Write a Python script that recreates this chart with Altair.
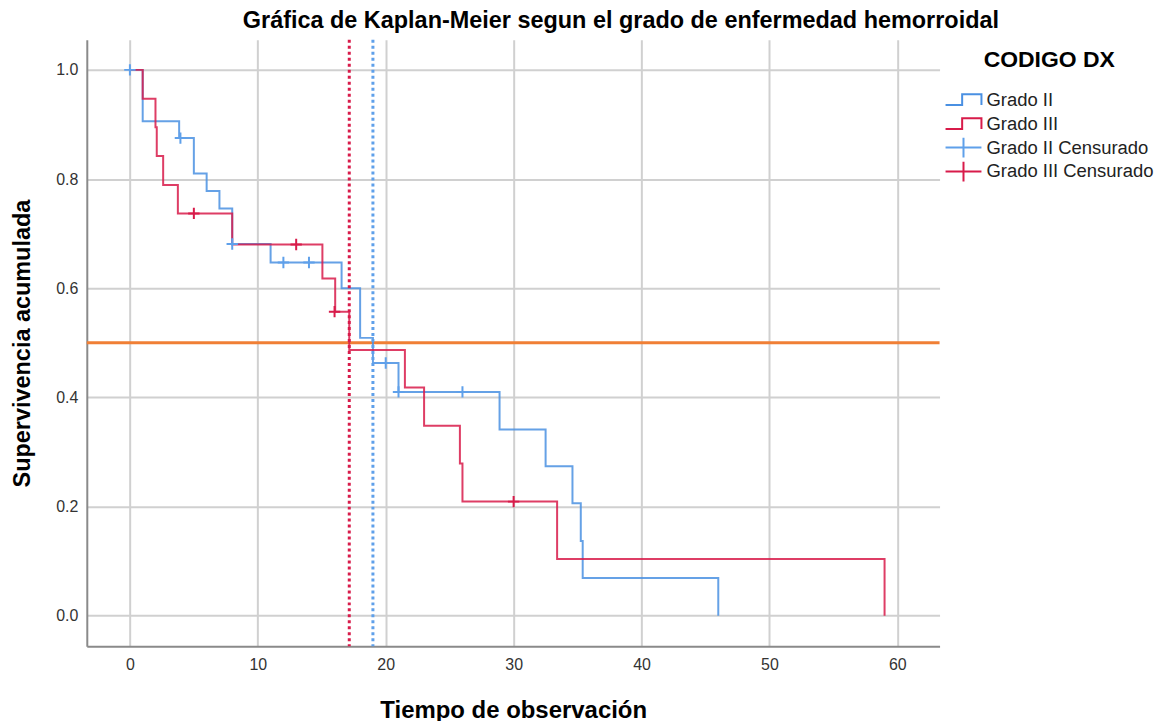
import altair as alt
import pandas as pd

FONT = "Liberation Sans"

# Grado II (step curve)
t_g2 = [0, 1, 3.85, 5, 6, 7, 8, 11, 16.55, 18, 19, 21, 28.9, 32.5, 34.6, 35.25, 35.4, 46]
s_g2 = [1.0, 0.906, 0.875, 0.810, 0.778, 0.746, 0.681, 0.647, 0.600, 0.509, 0.463, 0.410,
        0.341, 0.274, 0.206, 0.137, 0.069, 0.0]
# Grado II censored
tc_g2 = [0, 3.95, 8, 12, 14, 20, 21, 26]
sc_g2 = [1.0, 0.875, 0.681, 0.647, 0.647, 0.463, 0.410, 0.410]

# Grado III (step curve)
t_g3 = [0, 1, 2, 2.1, 2.6, 3.75, 8, 15.05, 16.05, 17.15, 21.5, 23, 25.8, 26, 33.4, 59]
s_g3 = [1.0, 0.947, 0.895, 0.842, 0.789, 0.737, 0.680, 0.618, 0.557, 0.487, 0.418, 0.348,
        0.279, 0.209, 0.104, 0.0]
# Grado III censored
tc_g3 = [5, 13, 16, 30]
sc_g3 = [0.737, 0.680, 0.557, 0.209]

# medians and reference
median_g2 = [19.0]
median_g3 = [17.15]
ref_level = [0.5]

series = ["Grado II", "Grado III", "Grado II Censurado", "Grado III Censurado"]
x_ticks = [0, 10, 20, 30, 40, 50, 60]
y_ticks = [0.0, 0.2, 0.4, 0.6, 0.8, 1.0]

BLUE = "#4a90e2"
BLUE_C = "#5fa0ea"
RED = "#d81b4a"
ORANGE = "#f07f35"

# legend symbols drawn wider than the unit square (size 324 -> r = 9px)
STEP_PATH = "M0,-1.1M-2,0.6H-0.15V-0.6H2V0.6M0,1.1"
PLUS_PATH = "M-2,0H2M0,-1.1V1.1"
CENS_PATH = "M-1,0H1M0,-1V1"

xs = alt.Scale(domain=[-3.37, 63.3], nice=False, zero=False)
ys = alt.Scale(domain=[-0.056, 1.055], nice=False, zero=False)

xax = alt.Axis(values=x_ticks, title="Tiempo de observación", format="d")
yax = alt.Axis(values=y_ticks, title="Supervivencia acumulada", format=".1f")

df2 = pd.DataFrame({"t": t_g2, "s": s_g2})
df3 = pd.DataFrame({"t": t_g3, "s": s_g3})
dc2 = pd.DataFrame({"t": tc_g2, "s": sc_g2})
dc3 = pd.DataFrame({"t": tc_g3, "s": sc_g3})

ref = alt.Chart(pd.DataFrame({"y": ref_level})).mark_rule(color=ORANGE, strokeWidth=3).encode(
    y=alt.Y("y:Q", scale=ys, axis=yax)
)

line2 = alt.Chart(df2).mark_line(interpolate="step-after", color=BLUE, strokeWidth=2, opacity=0.85).encode(
    x=alt.X("t:Q", scale=xs, axis=xax), y=alt.Y("s:Q", scale=ys, axis=yax)
)
line3 = alt.Chart(df3).mark_line(interpolate="step-after", color=RED, strokeWidth=2, opacity=0.85).encode(
    x=alt.X("t:Q", scale=xs, axis=xax), y=alt.Y("s:Q", scale=ys, axis=yax)
)
cens2 = alt.Chart(dc2).mark_point(shape=CENS_PATH, filled=False, color=BLUE_C, strokeWidth=2, size=130, opacity=1).encode(
    x=alt.X("t:Q", scale=xs, axis=xax), y=alt.Y("s:Q", scale=ys, axis=yax)
)
cens3 = alt.Chart(dc3).mark_point(shape=CENS_PATH, filled=False, color=RED, strokeWidth=2, size=130, opacity=1).encode(
    x=alt.X("t:Q", scale=xs, axis=xax), y=alt.Y("s:Q", scale=ys, axis=yax)
)
med3 = alt.Chart(pd.DataFrame({"x": median_g3})).mark_rule(color=RED, strokeWidth=3, strokeDash=[3, 3]).encode(
    x=alt.X("x:Q", scale=xs, axis=xax)
)
med2 = alt.Chart(pd.DataFrame({"x": median_g2})).mark_rule(color=BLUE_C, strokeWidth=3, strokeDash=[3, 3]).encode(
    x=alt.X("x:Q", scale=xs, axis=xax)
)

legend_layer = alt.Chart(pd.DataFrame({"serie": series})).mark_point(filled=False, strokeWidth=2).encode(
    color=alt.Color("serie:N", scale=alt.Scale(domain=series, range=[BLUE, RED, BLUE_C, RED]),
                    legend=alt.Legend(title="CODIGO DX", orient="none", legendX=860, legendY=9.5)),
    shape=alt.Shape("serie:N", scale=alt.Scale(domain=series, range=[STEP_PATH, STEP_PATH, PLUS_PATH, PLUS_PATH]),
                    legend=alt.Legend(title="CODIGO DX", orient="none", legendX=860, legendY=9.5)),
    opacity=alt.value(0),
)

chart = alt.layer(ref, line2, line3, cens2, cens3, med3, med2, legend_layer).properties(
    width=855,
    height=608,
    padding={"left": 2, "top": 0, "right": 0, "bottom": 0},
    title=alt.TitleParams(
        "Gráfica de Kaplan-Meier segun el grado de enfermedad hemorroidal",
        font=FONT, fontSize=23.5, fontWeight="bold", color="black",
        anchor="middle", dx=108, offset=6,
    ),
).configure_view(stroke=None).configure_axis(
    labelFont=FONT, labelFontSize=16, labelColor="#333333",
    titleFont=FONT, titleFontSize=24, titleFontWeight="bold", titleColor="black",
    ticks=False, domainColor="#8a8a8a", domainWidth=2,
    gridColor="#d0d0d0", gridWidth=2,
).configure_axisY(titlePadding=21, labelPadding=9, titleFontSize=23.5).configure_axisX(
    titlePadding=26.5, labelPadding=10
).configure_legend(
    titleFont=FONT, titleFontSize=23, titleFontWeight="bold", titleColor="black",
    titleAnchor="middle", labelFont=FONT, labelFontSize=18.5, labelColor="#222222", labelLimit=0,
    symbolSize=324, symbolStrokeWidth=2, symbolOpacity=1, symbolFillColor="transparent",
    symbolOffset=9, labelOffset=13,
    padding=0, rowPadding=-4, titlePadding=17.5,
)

chart.save("out.html", embed_options={"renderer": "svg", "actions": False})
